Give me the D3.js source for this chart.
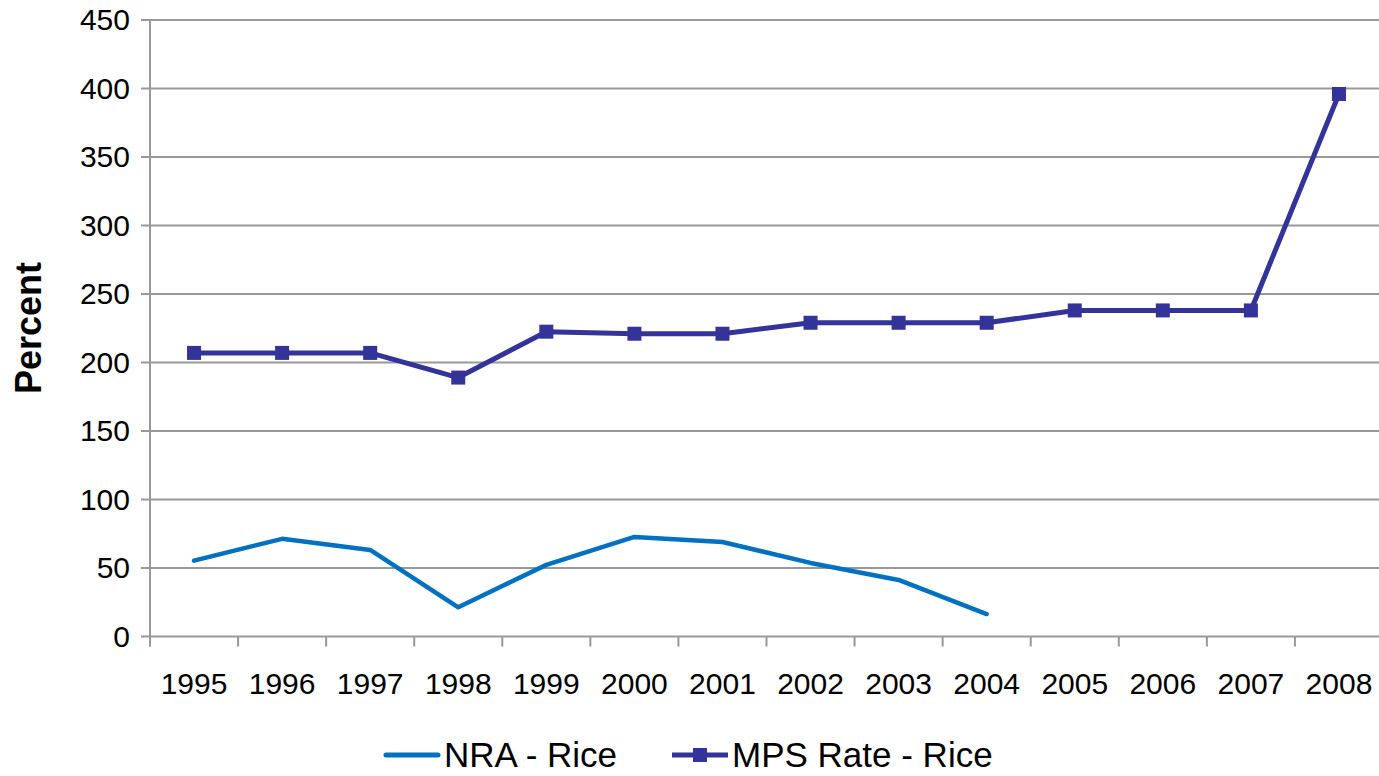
<!DOCTYPE html>
<html>
<head>
<meta charset="utf-8">
<script src="https://cdn.jsdelivr.net/npm/d3@7"></script>
<style>
  html, body { margin: 0; padding: 0; background: #fff; }
  svg { display: block; font-family: "Liberation Sans", Arial, sans-serif; }
</style>
</head>
<body>
<svg id="chart" width="1379" height="776"></svg>
<script>
// Years on the category axis
const years = ["1995","1996","1997","1998","1999","2000","2001","2002","2003","2004","2005","2006","2007","2008"];
// Nominal rate of assistance for rice (ends in 2004)
const nraRice = [55.4, 71.3, 63.2, 21.3, 52.3, 72.7, 69.0, 53.7, 41.3, 16.4];
// Market price support rate for rice
const mpsRice = [207, 207, 207, 189, 222.5, 221, 221, 229, 229, 229, 238, 238, 238, 396];
// Value-axis ticks
const yTicks = [0, 50, 100, 150, 200, 250, 300, 350, 400, 450];

const nraColor = "#0070C0";
const mpsColor = "#333399";
const gridColor = "#999999";

const svg = d3.select("#chart");
const plotLeft = 150, plotRight = 1383, plotTop = 20, plotBottom = 636.5;

const x = d3.scaleBand().domain(years).range([plotLeft, plotRight]).padding(0);
const y = d3.scaleLinear().domain([0, 450]).range([plotBottom, plotTop]);
const cx = d => x(d) + x.bandwidth() / 2;

// Horizontal gridlines
svg.append("g")
  .selectAll("line")
  .data(yTicks)
  .join("line")
  .attr("x1", plotLeft - 9).attr("x2", 1379)
  .attr("y1", d => y(d)).attr("y2", d => y(d))
  .attr("stroke", gridColor).attr("stroke-width", 2);

// Value axis
const yAxis = d3.axisLeft(y).tickValues(yTicks).tickSize(0).tickPadding(20);
const yg = svg.append("g").attr("transform", `translate(${plotLeft},0)`).call(yAxis);
yg.select(".domain").remove();
yg.selectAll("text").attr("font-size", 30).attr("fill", "#000")
  .attr("font-family", "Liberation Sans, Arial, sans-serif");
svg.append("line")
  .attr("x1", plotLeft).attr("x2", plotLeft).attr("y1", plotTop).attr("y2", plotBottom + 10)
  .attr("stroke", gridColor).attr("stroke-width", 2);

// Category axis with ticks between categories
const xg = svg.append("g").attr("transform", `translate(0,${plotBottom})`);
xg.selectAll("line.tick")
  .data(d3.range(years.length + 1))
  .join("line")
  .attr("class", "tick")
  .attr("x1", i => plotLeft + i * x.step()).attr("x2", i => plotLeft + i * x.step())
  .attr("y1", 0).attr("y2", 10)
  .attr("stroke", gridColor).attr("stroke-width", 2);
xg.selectAll("text")
  .data(years)
  .join("text")
  .attr("x", d => cx(d))
  .attr("y", 57)
  .attr("text-anchor", "middle")
  .attr("font-size", 30)
  .attr("fill", "#000")
  .text(d => d);

// Axis title
svg.append("text")
  .attr("transform", "translate(41,328) rotate(-90)")
  .attr("text-anchor", "middle")
  .attr("font-size", 36)
  .attr("font-weight", "bold")
  .attr("fill", "#000")
  .text("Percent");

// Series paths
const line = d3.line().x(d => cx(d.year)).y(d => y(d.v));
const nraData = nraRice.map((v, i) => ({ year: years[i], v }));
const mpsData = mpsRice.map((v, i) => ({ year: years[i], v }));

svg.append("path")
  .datum(nraData)
  .attr("d", line)
  .attr("fill", "none")
  .attr("stroke", nraColor)
  .attr("stroke-width", 4.5)
  .attr("stroke-linejoin", "round")
  .attr("stroke-linecap", "round");

// MPS series with square markers
svg.append("path")
  .datum(mpsData)
  .attr("d", line)
  .attr("fill", "none")
  .attr("stroke", mpsColor)
  .attr("stroke-width", 5)
  .attr("stroke-linejoin", "round");
svg.append("g")
  .selectAll("rect")
  .data(mpsData)
  .join("rect")
  .attr("x", d => cx(d.year) - 7)
  .attr("y", d => y(d.v) - 7)
  .attr("width", 14).attr("height", 14)
  .attr("fill", mpsColor);

// Legend
const lg = svg.append("g").attr("transform", "translate(0,755)");
lg.append("line").attr("x1", 386).attr("x2", 438).attr("y1", 0).attr("y2", 0)
  .attr("stroke", nraColor).attr("stroke-width", 5).attr("stroke-linecap", "round");
lg.append("text").attr("x", 444).attr("y", 12).attr("font-size", 35).attr("fill", "#000")
  .text("NRA - Rice");
lg.append("line").attr("x1", 672).attr("x2", 728).attr("y1", 0).attr("y2", 0)
  .attr("stroke", mpsColor).attr("stroke-width", 5);
lg.append("rect").attr("x", 693).attr("y", -7).attr("width", 14).attr("height", 14)
  .attr("fill", mpsColor);
lg.append("text").attr("x", 732).attr("y", 12).attr("font-size", 35).attr("fill", "#000")
  .text("MPS Rate - Rice");
</script>
</body>
</html>
